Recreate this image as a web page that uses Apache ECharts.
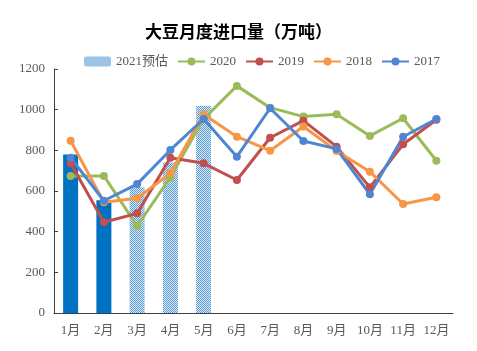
<!DOCTYPE html>
<html>
<head>
<meta charset="utf-8">
<script src="https://cdn.jsdelivr.net/npm/echarts@6/dist/echarts.min.js"></script>
<style>
  html, body { margin: 0; padding: 0; background: #fff; }
  #myChart { width: 477px; height: 351px; }
</style>
</head>
<body>
<div id="myChart"></div>
<script>
// 月份
var months = ['1月', '2月', '3月', '4月', '5月', '6月', '7月', '8月', '9月', '10月', '11月', '12月']
// 2021预估（前两个月为实际值，后三个月为预估）
var data2021 = [780, 555, 618, 740, 1018, null, null, null, null, null, null, null]
var data2020 = [674, 674, 428, 667, 955, 1117, 1010, 966, 977, 871, 958, 749]
var data2019 = [736, 446, 490, 764, 736, 654, 862, 946, 818, 618, 830, 950]
var data2018 = [847, 545, 564, 687, 977, 867, 798, 917, 797, 695, 536, 569]
var data2017 = [764, 552, 634, 802, 954, 769, 1007, 846, 807, 584, 867, 954]
var yTicks = [0, 200, 400, 600, 800, 1000, 1200]

// 预估柱子用的网点填充
function makeDots () {
  var c = document.createElement('canvas')
  c.width = 2
  c.height = 2
  var ctx = c.getContext('2d')
  ctx.fillStyle = '#dcebf7'
  ctx.fillRect(0, 0, 2, 2)
  ctx.fillStyle = '#5b9bd5'
  ctx.fillRect(0, 0, 1, 1)
  ctx.fillRect(1, 1, 1, 1)
  return c
}
var dots = { image: makeDots(), repeat: 'repeat' }

var barData = data2021.map(function (v, i) {
  if (v === null) return null
  if (i < 2) return { value: v, itemStyle: { color: '#0070c0' } }
  return v
})

function lineSeries (name, color, data) {
  return {
    name: name,
    type: 'line',
    data: data,
    color: color,
    symbol: 'circle',
    symbolSize: 8,
    lineStyle: { width: 3, color: color },
    itemStyle: { color: color }
  }
}

var myChart = echarts.init(document.getElementById('myChart'))
myChart.setOption({
  animation: false,
  textStyle: { fontFamily: '"Liberation Serif", "Noto Sans CJK SC", serif' },
  title: {
    text: '大豆月度进口量（万吨）',
    left: 'center',
    top: 18,
    textStyle: { fontSize: 17, fontWeight: 'bold', color: '#000', fontFamily: '"Noto Sans CJK SC", sans-serif' }
  },
  legend: {
    left: 79,
    top: 50,
    itemGap: 9,
    itemWidth: 27,
    itemHeight: 10,
    textStyle: { fontSize: 13, color: '#595959' },
    data: ['2021预估', '2020', '2019', '2018', '2017']
  },
  grid: { left: 54, right: 24, top: 69, bottom: 38 },
  xAxis: {
    type: 'category',
    data: months,
    axisLine: { lineStyle: { color: '#404040', width: 1 } },
    axisTick: { inside: true, length: 4, lineStyle: { color: '#404040' } },
    axisLabel: { color: '#595959', fontSize: 13, margin: 11, interval: 0 }
  },
  yAxis: {
    type: 'value',
    min: 0,
    max: 1200,
    interval: 200,
    axisLine: { show: true, lineStyle: { color: '#404040', width: 1 } },
    axisTick: { show: true, inside: true, length: 4, lineStyle: { color: '#404040' } },
    axisLabel: {
      color: '#595959',
      fontSize: 13,
      margin: 9,
      formatter: function (v) { return yTicks.indexOf(v) >= 0 ? String(v) : '' }
    },
    splitLine: { show: false }
  },
  series: [
    {
      name: '2021预估',
      type: 'bar',
      data: barData,
      barWidth: 15,
      itemStyle: { color: dots }
    },
    lineSeries('2020', '#9bbb59', data2020),
    lineSeries('2019', '#c0504d', data2019),
    lineSeries('2018', '#f79646', data2018),
    lineSeries('2017', '#4f86d4', data2017)
  ]
})
</script>
</body>
</html>
